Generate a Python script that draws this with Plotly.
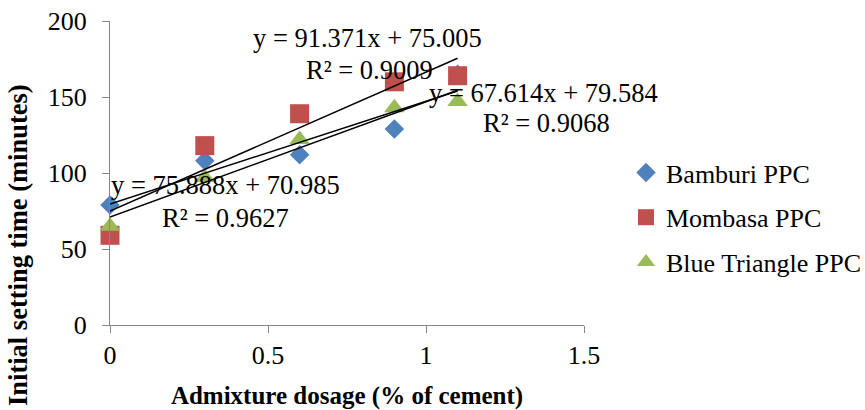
import plotly.graph_objects as go

# Admixture dosage (% of cement)
dosage = [0, 0.3, 0.6, 0.9, 1.1]

# Initial setting time (minutes) for each cement
series_names = ["Bamburi PPC", "Mombasa PPC", "Blue Triangle PPC"]
bamburi = [79, 108, 112, 129, 165]
mombasa = [59, 118, 139, 160, 164]
blue_triangle = [65, 97, 122, 143, 147]

# Linear trendline coefficients (slope, intercept) and R² for each series
slopes = [67.614, 91.371, 75.888]
intercepts = [79.584, 75.005, 70.985]
r_squared = [0.9068, 0.9009, 0.9627]

x_ticks = [0, 0.5, 1, 1.5]
y_ticks = [0, 50, 100, 150, 200]

FONT = "Liberation Serif"
colors = ["#4F81BD", "#C0504D", "#9BBB59"]
symbols = ["diamond", "square", "triangle-up"]
sizes = [15, 19, 18]

W, H = 865, 410
L, R, T, B = 110, 281, 21, 85
PW, PH = W - L - R, H - T - B


def px_to_paper(px, py):
    return (px - L) / PW, (H - B - py) / PH


fig = go.Figure()

values = [bamburi, mombasa, blue_triangle]
for i, (name, ys) in enumerate(zip(series_names, values)):
    fig.add_trace(go.Scatter(
        x=dosage, y=ys, mode="markers", name=name,
        legendgroup=name, cliponaxis=False,
        marker=dict(symbol=symbols[i], size=sizes[i], color=colors[i],
                    line=dict(width=0)),
    ))

# Trendlines across the dosage range
x0, x1 = min(dosage), max(dosage)
for m, c in zip(slopes, intercepts):
    fig.add_trace(go.Scatter(
        x=[x0, x1], y=[m * x0 + c, m * x1 + c], mode="lines",
        line=dict(color="black", width=1.5), showlegend=False,
        hoverinfo="skip", cliponaxis=False,
    ))

# Trendline equation labels (two centred lines each)
label_pos = [
    ((543, 93), (546, 123)),   # Bamburi
    ((367, 38), (369, 70)),    # Mombasa
    ((225, 185), (225, 218)),  # Blue Triangle
]
for (p1, p2), m, c, r2 in zip(label_pos, slopes, intercepts, r_squared):
    for (px, py), txt in ((p1, f"y = {m:.3f}x + {c:.3f}"), (p2, f"R² = {r2:.4f}")):
        ax, ay = px_to_paper(px, py)
        fig.add_annotation(x=ax, y=ay, xref="paper", yref="paper",
                           text=txt, showarrow=False, xanchor="center",
                           yanchor="middle", font=dict(family=FONT, size=26.5, color="black"))

# Y axis title placed as a rotated annotation
tx, ty = px_to_paper(18, 245)
fig.add_annotation(x=tx, y=ty, xref="paper", yref="paper",
                   text="<b>Initial setting time (minutes)</b>", textangle=-90,
                   showarrow=False, xanchor="center", yanchor="middle",
                   font=dict(family=FONT, size=26.5, color="black"))

axis_common = dict(
    showline=True, linecolor="#868686", linewidth=1.2,
    ticks="outside", ticklen=7, tickcolor="#868686", tickwidth=1.2,
    showgrid=False, zeroline=False,
    tickfont=dict(family=FONT, size=26, color="black"),
)

fig.update_layout(
    width=W, height=H,
    margin=dict(l=L, r=R, t=T, b=B, autoexpand=False),
    paper_bgcolor="white", plot_bgcolor="white",
    xaxis=dict(range=[0, 1.5], tickvals=x_ticks, ticktext=[str(v) for v in x_ticks],
               title=dict(text="<b>Admixture dosage (% of cement)</b>",
                          font=dict(family=FONT, size=25, color="black"), standoff=17),
               **axis_common),
    yaxis=dict(range=[0, 200], tickvals=y_ticks, ticklabelstandoff=10, **axis_common),
    legend=dict(xref="container", yref="container",
                x=626 / W, xanchor="left", y=1 - 149 / H, yanchor="top",
                font=dict(family=FONT, size=26, color="black"),
                tracegroupgap=8, bgcolor="rgba(0,0,0,0)"),
    showlegend=True,
)

fig.write_html("out.html")
